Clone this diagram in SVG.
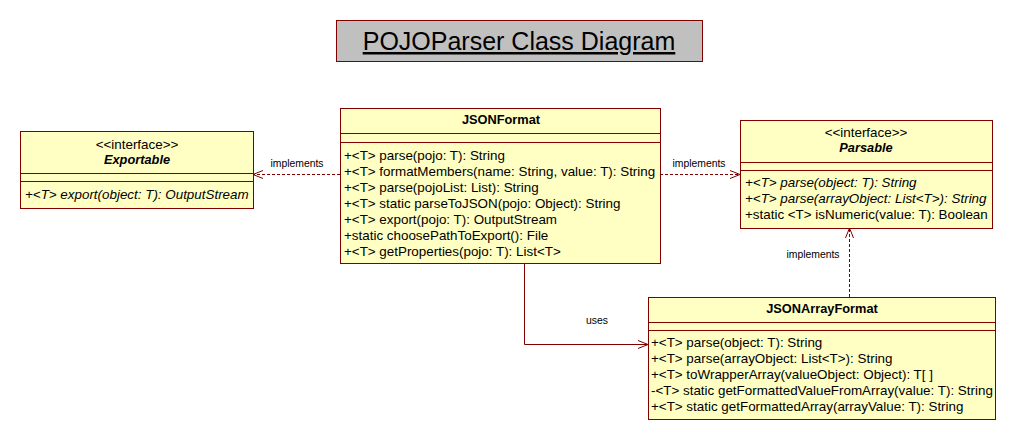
<svg xmlns="http://www.w3.org/2000/svg" width="1016" height="441" viewBox="0 0 1016 441">
<style>
.box{fill:#ffffc4;stroke:#800000;stroke-width:1}
.div{stroke:#800000;stroke-width:1}
.t{font-family:"Liberation Sans",Arial,sans-serif;font-size:13.4px;fill:#000}
.b{font-weight:bold;text-anchor:middle;font-size:12.8px}
.c{text-anchor:middle}
.i{font-style:italic}
.lbl{font-family:"Liberation Sans",Arial,sans-serif;font-size:10.4px;fill:#000;text-anchor:middle}
.dash{fill:none;stroke:#800000;stroke-width:1;stroke-dasharray:3,2}
.solid{fill:none;stroke:#800000;stroke-width:1}
</style>
<defs>
<marker id="open" viewBox="0 0 10 10" refX="10" refY="5" markerWidth="10" markerHeight="10" markerUnits="userSpaceOnUse" orient="auto">
<path d="M0,1 L10,5 L0,9" fill="none" stroke="#800000" stroke-width="1"/>
</marker>
</defs>
<rect width="1016" height="441" fill="#ffffff"/>
<g id="title">
<rect x="336.5" y="20.5" width="366" height="41" fill="#c0c0c0" stroke="#800000" stroke-width="1"/>
<text x="519" y="50" font-family="'Liberation Sans',Arial,sans-serif" font-size="25px" text-anchor="middle" text-decoration="underline" fill="#000">POJOParser Class Diagram</text>
</g>
<g id="connectors">
<line class="dash" x1="340" y1="174.5" x2="253" y2="174.5" marker-end="url(#open)"/>
<line class="dash" x1="660" y1="174.5" x2="740" y2="174.5" marker-end="url(#open)"/>
<line class="dash" x1="849.5" y1="297" x2="849.5" y2="228" marker-end="url(#open)"/>
<polyline class="solid" points="524.5,264 524.5,344.5 648,344.5" marker-end="url(#open)"/>
<text class="lbl" x="297" y="167">implements</text>
<text class="lbl" x="699" y="167">implements</text>
<text class="lbl" x="813" y="258">implements</text>
<text class="lbl" x="597" y="324">uses</text>
</g>
<g id="Exportable">
<rect class="box" x="20.5" y="131.5" width="233" height="77"/>
<line class="div" x1="20.5" y1="173.5" x2="253.5" y2="173.5"/>
<line class="div" x1="20.5" y1="181.5" x2="253.5" y2="181.5"/>
<text class="t c" x="137" y="149">&lt;&lt;interface&gt;&gt;</text>
<text class="t b i" x="137" y="164">Exportable</text>
<text class="t i" x="25" y="199">+&lt;T&gt; export(object: T): OutputStream</text>
</g>
<g id="JSONFormat">
<rect class="box" x="340.5" y="108.5" width="320" height="155"/>
<line class="div" x1="340.5" y1="133.5" x2="660.5" y2="133.5"/>
<line class="div" x1="340.5" y1="142.5" x2="660.5" y2="142.5"/>
<text class="t b" x="501" y="124">JSONFormat</text>
<text class="t" x="344" y="160">+&lt;T&gt; parse(pojo: T): String</text>
<text class="t" x="344" y="176">+&lt;T&gt; formatMembers(name: String, value: T): String</text>
<text class="t" x="344" y="192">+&lt;T&gt; parse(pojoList: List): String</text>
<text class="t" x="344" y="208">+&lt;T&gt; static parseToJSON(pojo: Object): String</text>
<text class="t" x="344" y="224">+&lt;T&gt; export(pojo: T): OutputStream</text>
<text class="t" x="344" y="240">+static choosePathToExport(): File</text>
<text class="t" x="344" y="256">+&lt;T&gt; getProperties(pojo: T): List&lt;T&gt;</text>
</g>
<g id="Parsable">
<rect class="box" x="740.5" y="120.5" width="252" height="108"/>
<line class="div" x1="740.5" y1="162.5" x2="992.5" y2="162.5"/>
<line class="div" x1="740.5" y1="170.5" x2="992.5" y2="170.5"/>
<text class="t c" x="866" y="137">&lt;&lt;interface&gt;&gt;</text>
<text class="t b i" x="866" y="152">Parsable</text>
<text class="t i" x="745" y="187">+&lt;T&gt; parse(object: T): String</text>
<text class="t i" x="745" y="203">+&lt;T&gt; parse(arrayObject: List&lt;T&gt;): String</text>
<text class="t" x="745" y="219">+static &lt;T&gt; isNumeric(value: T): Boolean</text>
</g>
<g id="JSONArrayFormat">
<rect class="box" x="648.5" y="297.5" width="347" height="122"/>
<line class="div" x1="648.5" y1="322.5" x2="995.5" y2="322.5"/>
<line class="div" x1="648.5" y1="330.5" x2="995.5" y2="330.5"/>
<text class="t b" x="822" y="313">JSONArrayFormat</text>
<text class="t" x="651" y="347">+&lt;T&gt; parse(object: T): String</text>
<text class="t" x="651" y="363">+&lt;T&gt; parse(arrayObject: List&lt;T&gt;): String</text>
<text class="t" x="651" y="379">+&lt;T&gt; toWrapperArray(valueObject: Object): T[ ]</text>
<text class="t" x="651" y="395">-&lt;T&gt; static getFormattedValueFromArray(value: T): String</text>
<text class="t" x="651" y="411">+&lt;T&gt; static getFormattedArray(arrayValue: T): String</text>
</g>
</svg>
